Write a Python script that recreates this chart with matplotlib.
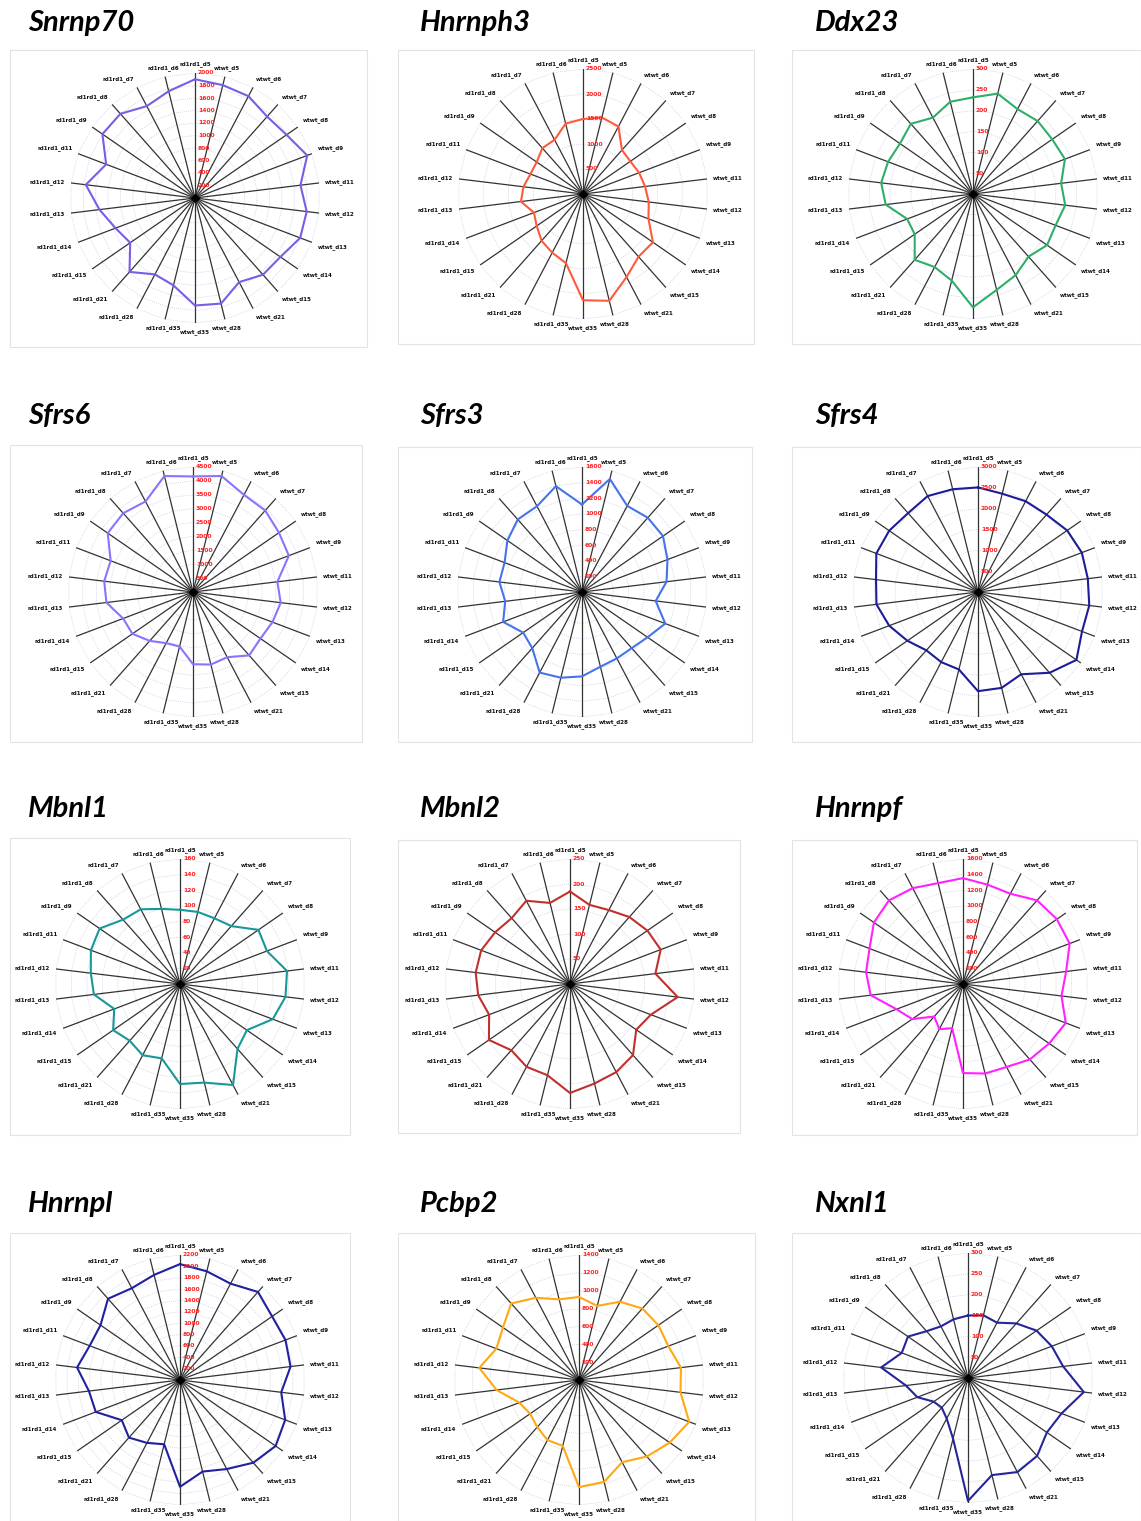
import numpy as np
import matplotlib.pyplot as plt
from matplotlib.patches import Rectangle

# spoke order, clockwise from 12 o'clock
spokes = ['rd1rd1_d5', 'wtwt_d5', 'wtwt_d6', 'wtwt_d7', 'wtwt_d8', 'wtwt_d9',
          'wtwt_d11', 'wtwt_d12', 'wtwt_d13', 'wtwt_d14', 'wtwt_d15', 'wtwt_d21',
          'wtwt_d28', 'wtwt_d35', 'rd1rd1_d35', 'rd1rd1_d28', 'rd1rd1_d21',
          'rd1rd1_d15', 'rd1rd1_d14', 'rd1rd1_d13', 'rd1rd1_d12', 'rd1rd1_d11',
          'rd1rd1_d9', 'rd1rd1_d8', 'rd1rd1_d7', 'rd1rd1_d6']

genes = ['Snrnp70', 'Hnrnph3', 'Ddx23', 'Sfrs6', 'Sfrs3', 'Sfrs4',
         'Mbnl1', 'Mbnl2', 'Hnrnpf', 'Hnrnpl', 'Pcbp2', 'Nxnl1']

snrnp70 = [1900, 1860, 1840, 1740, 1780, 1920, 1700, 1800, 1800, 1660, 1640, 1520, 1740,
           1720, 1440, 1380, 1580, 1260, 1360, 1540, 1760, 1520, 1800, 1800, 1660, 1760]
hnrnph3 = [1500, 1575, 1525, 1175, 1150, 1200, 1250, 1325, 1400, 1700, 1675, 1875, 2200,
           2125, 1425, 1325, 1250, 1125, 1050, 1250, 1200, 1125, 1125, 1225, 1225, 1450]
ddx23 = [232, 248, 230, 234, 231, 236, 213, 223, 212, 216, 201, 220, 237,
         272, 214, 198, 211, 170, 169, 211, 222, 218, 213, 225, 207, 228]
sfrs6 = [4160, 4300, 3950, 3920, 3760, 3690, 3060, 3180, 3060, 2950, 3050, 2650, 2690,
         2600, 2020, 2080, 2350, 2650, 2690, 3140, 3220, 3170, 3730, 3790, 3680, 4300]
sfrs3 = [1120, 1490, 1245, 1270, 1260, 1170, 1090, 950, 1140, 1020, 960, 960, 985,
         1080, 1130, 1165, 960, 915, 1080, 990, 1065, 1060, 1160, 1240, 1240, 1395]
sfrs4 = [2510, 2430, 2460, 2480, 2600, 2665, 2655, 2690, 2670, 2870, 2590, 2230, 2370,
         2380, 1915, 1900, 1870, 2060, 2280, 2455, 2465, 2610, 2590, 2530, 2600, 2540]
mbnl1 = [95, 95, 95, 99, 122, 119, 138, 136, 127, 104, 111, 146, 130,
         128, 98, 103, 97, 104, 90, 111, 115, 122, 125, 110, 108, 99]
mbnl2 = [185, 163, 167, 179, 188, 194, 172, 217, 173, 161, 190, 199, 205,
         218, 188, 187, 177, 197, 173, 185, 190, 190, 182, 176, 188, 167]
hnrnpf = [1355, 1310, 1305, 1430, 1460, 1460, 1330, 1270, 1407, 1340, 1290, 1200, 1180,
          1140, 583, 653, 556, 790, 910, 1190, 1250, 1280, 1385, 1430, 1385, 1330]
hnrnpl = [2040, 1970, 1915, 2070, 1970, 1985, 1960, 1795, 1980, 2045, 1945, 1770, 1660,
          1880, 1165, 1250, 1355, 1245, 1585, 1615, 1825, 1700, 1700, 1910, 1825, 1905]
pcbp2 = [930, 855, 990, 1070, 1080, 1070, 1150, 1145, 1320, 1235, 1145, 1040, 1175,
         1200, 760, 760, 705, 665, 715, 930, 1125, 990, 1035, 1145, 1040, 930]
nxnl1 = [150, 155, 150, 175, 200, 215, 230, 280, 240, 230, 250, 255, 240,
         295, 150, 110, 95, 100, 130, 150, 210, 170, 175, 150, 140, 145]

series = [snrnp70, hnrnph3, ddx23, sfrs6, sfrs3, sfrs4,
          mbnl1, mbnl2, hnrnpf, hnrnpl, pcbp2, nxnl1]
axis_max = [2000, 2500, 300, 4500, 1600, 3000, 160, 250, 1600, 2200, 1400, 300]
axis_step = [200, 500, 50, 500, 200, 500, 20, 50, 200, 200, 200, 50]
line_colors = ['#7b5ce6', '#ff5a3c', '#2eae68', '#8575ff', '#4673ea', '#1c1c96',
               '#17999a', '#c0302c', '#ff22ff', '#2121a0', '#ffa812', '#25259a']

W, H = 1141, 1521
R = 125
centers = [(195, 198), (583, 194), (973, 194),
           (193, 592), (582, 592), (978, 592),
           (180, 984), (570, 984), (963, 984),
           (180, 1380), (579, 1380), (968, 1378)]
boxes = [(10, 50, 367, 347), (398, 50, 754, 344), (792, 50, 1141, 344),
         (10, 445, 362, 742), (398, 447, 752, 742), (792, 447, 1141, 742),
         (10, 838, 350, 1135), (398, 840, 740, 1133), (792, 840, 1137, 1135),
         (10, 1233, 350, 1521), (398, 1233, 755, 1521), (792, 1233, 1141, 1521)]
title_xy = [(28, 23), (420, 23), (815, 23),
            (28, 416), (420, 416), (815, 416),
            (28, 809), (420, 809), (815, 809),
            (28, 1204), (420, 1204), (815, 1204)]

fig = plt.figure(figsize=(W / 100, H / 100), dpi=100)
fig.patch.set_facecolor('white')

n = len(spokes)
theta = np.arange(n) * 2 * np.pi / n
theta_closed = np.append(theta, theta[0])

for i, gene in enumerate(genes):
    x0, y0, x1, y1 = boxes[i]
    fig.add_artist(Rectangle((x0 / W, 1 - y1 / H), (x1 - x0) / W, (y1 - y0) / H,
                             transform=fig.transFigure, facecolor='white',
                             edgecolor='#e3e3e3', lw=0.8, zorder=0))
    tx, ty = title_xy[i]
    fig.text(tx / W, 1 - ty / H, gene, fontsize=21, fontweight='bold', style='italic',
             family='Lato', va='center', ha='left')

    cx, cy = centers[i]
    ax = fig.add_axes([(cx - R) / W, 1 - (cy + R) / H, 2 * R / W, 2 * R / H],
                      projection='polar')
    ax.set_theta_zero_location('N')
    ax.set_theta_direction(-1)
    vmax = axis_max[i]
    ax.set_ylim(0, vmax)
    ax.grid(False)
    ax.set_xticks([])
    ax.set_yticks([])
    ax.spines['polar'].set_visible(False)
    ax.patch.set_alpha(0)

    ticks = np.arange(axis_step[i], vmax + 1, axis_step[i])
    for t in ticks:
        ax.plot(theta_closed, [t] * (n + 1), ls=(0, (1, 1.5)), color='#c9cbe0', lw=0.6)
    for th in theta:
        ax.plot([th, th], [0, vmax], color='#333333', lw=0.9)
    vals = np.array(series[i])
    ax.plot(theta_closed, np.append(vals, vals[0]), color=line_colors[i], lw=1.5, zorder=5)
    ax.plot([0], [0], marker='D', ms=4, color='black', zorder=6)

    for t in ticks:
        ax.annotate(str(t), (0, t), xytext=(2, 0), textcoords='offset points',
                    color='#ff2020', fontsize=4.3, fontweight='bold',
                    ha='left', va='center', zorder=7)

    for th, lab in zip(theta, spokes):
        s, c = np.sin(th), np.cos(th)
        ha = 'center' if abs(s) < 0.3 else ('left' if s > 0 else 'right')
        va = 'bottom' if c > 0.3 else ('top' if c < -0.3 else 'center')
        ax.text(th, vmax * 1.05, lab, fontsize=4, fontweight='bold', color='#111111',
                ha=ha, va=va, clip_on=False)

fig.savefig('out.png', dpi=100)
